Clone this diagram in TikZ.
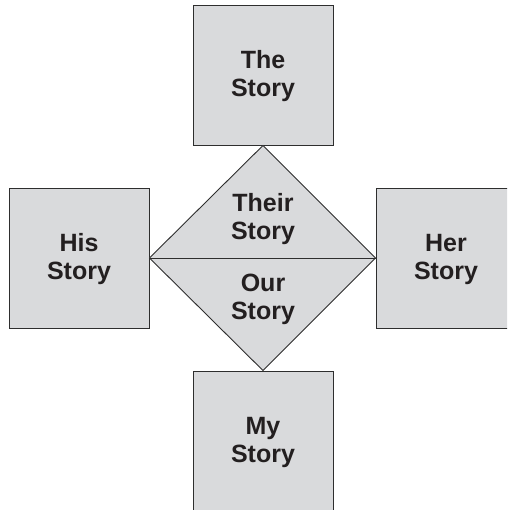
\documentclass[tikz,border=0pt]{standalone}
\usepackage{fontspec}
\setmainfont{Liberation Sans}
\definecolor{boxfill}{HTML}{D9DADC}
\definecolor{boxline}{HTML}{2E2E2E}
\definecolor{txt}{HTML}{231F20}
\begin{document}
\begin{tikzpicture}[x=1pt,y=1pt,
  sq/.style={draw=boxline,fill=boxfill,line width=0.9pt,minimum size=140pt,inner sep=0pt},
  lbl/.style={text=txt,font=\fontsize{25}{28}\selectfont\bfseries,align=center,inner sep=0pt}]
\clip (0,0) rectangle (507,510);
\useasboundingbox (0,0) rectangle (507,510);
\node[sq] (the) at (263,435) {};
\node[sq] (his) at (79,252) {};
\node[sq] (her) at (446,252) {};
\node[sq] (my) at (263,69) {};
\draw[draw=boxline,fill=boxfill,line width=0.9pt,line join=miter]
  (the.south) -- (her.west) -- (my.north) -- (his.east) -- cycle;
\draw[draw=boxline,line width=0.9pt] (his.east) -- (her.west);
\node[lbl] (theT) at (263,434) {The\\Story};
\node[lbl] (hisT) at (79,251) {His\\Story};
\node[lbl] (herT) at (446,251) {Her\\Story};
\node[lbl] (myT) at (263,68) {My\\Story};
\node[lbl] (their) at (263,291) {Their\\Story};
\node[lbl] (our) at (263,211) {Our\\Story};
\end{tikzpicture}
\end{document}
